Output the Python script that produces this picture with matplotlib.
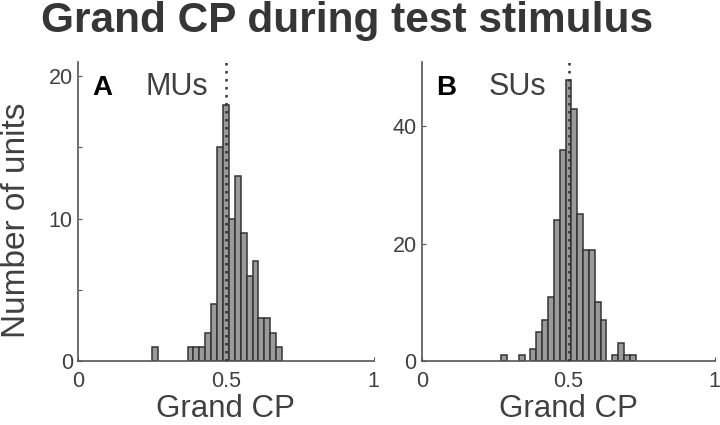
import numpy as np
import matplotlib
matplotlib.use("Agg")
import matplotlib.pyplot as plt
from matplotlib.ticker import MultipleLocator

plt.rcParams['font.family'] = ['Liberation Sans', 'DejaVu Sans']

# histogram bins (centres) and counts
mu_centres = [0.26, 0.38, 0.40, 0.42, 0.44, 0.46, 0.48, 0.50, 0.52, 0.54,
              0.56, 0.58, 0.60, 0.62, 0.64, 0.66, 0.68]
mu_counts = [1, 1, 1, 1, 2, 4, 15, 18, 10, 13, 9, 6, 7, 3, 3, 2, 1]

su_centres = [0.28, 0.34, 0.38, 0.40, 0.42, 0.44, 0.46, 0.48, 0.50, 0.52,
              0.54, 0.56, 0.58, 0.60, 0.62, 0.66, 0.68, 0.70, 0.72]
su_counts = [1, 1, 2, 5, 7, 11, 24, 36, 48, 43, 25, 19, 19, 10, 7, 1, 3, 1, 1]

mean_cp = [0.50, 0.502]
letters = ["A", "B"]
names = ["MUs", "SUs"]
ymax = [21, 51]
yticks_major = [10, 20]
yticks_minor = [5, 20]

bin_width = 0.02
text_col = "#404040"
axis_col = "#555555"

fig = plt.figure(figsize=(7.2, 4.25), dpi=100)
ax_a = fig.add_axes([0.1088, 0.1506, 0.410, 0.7035])
ax_b = fig.add_axes([0.5865, 0.1506, 0.406, 0.7035])

fig.text(0.482, 1 - 32 / 425, "Grand CP during test stimulus", ha="center",
         va="baseline", fontsize=30.5, fontweight="bold", color="#363636")

data = [(mu_centres, mu_counts), (su_centres, su_counts)]
for i, ax in enumerate([ax_a, ax_b]):
    centres, counts = data[i]
    ax.bar(centres, counts, width=bin_width, color="#9a9a9a",
           edgecolor="#333333", linewidth=1.1, zorder=2)
    ax.axvline(mean_cp[i], color="#333333", linestyle=(0, (1, 2.2)),
               linewidth=1.8, zorder=3)
    ax.set_xlim(0, 1)
    ax.set_ylim(0, ymax[i])
    ax.set_xticks([0, 0.5, 1])
    ax.set_xticklabels(["0", "0.5", "1"])
    ax.yaxis.set_major_locator(MultipleLocator(yticks_major[i]))
    ax.yaxis.set_minor_locator(MultipleLocator(yticks_minor[i]))
    for s in ["top", "right"]:
        ax.spines[s].set_visible(False)
    for s in ["left", "bottom"]:
        ax.spines[s].set_color(axis_col)
        ax.spines[s].set_linewidth(1.2)
    ax.tick_params(axis="both", which="both", direction="in", length=3,
                   width=0.8, color=axis_col, labelsize=15.5, labelcolor=text_col)
    ax.tick_params(axis="x", pad=7)
    ax.tick_params(axis="y", pad=4)

    ax.set_xlabel("Grand CP", fontsize=22.5, color=text_col)
    ax.xaxis.label.set_va("baseline")
    ax.xaxis.set_label_coords(0.5, -0.187)

    ax.text(0.048, 0.89, letters[i], transform=ax.transAxes, fontsize=20,
            fontweight="bold", color="black", ha="left", va="baseline")
    ax.text(0.228, 0.89, names[i], transform=ax.transAxes, fontsize=22,
            color=text_col, ha="left", va="baseline")

ax_a.set_ylabel("Number of units", fontsize=24, color=text_col)
ax_a.yaxis.label.set_va("center")
ax_a.yaxis.set_label_coords(-0.21, 0.47)

fig.savefig("out.png", dpi=100)
